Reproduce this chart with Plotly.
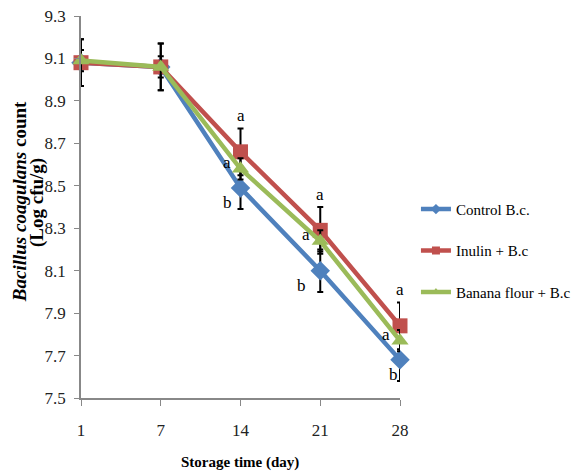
import plotly.graph_objects as go

days = ["1", "7", "14", "21", "28"]
control = [9.08, 9.06, 8.49, 8.10, 7.68]
inulin = [9.08, 9.06, 8.66, 8.29, 7.84]
banana = [9.09, 9.06, 8.58, 8.24, 7.77]
control_err = [0.11, 0.11, 0.10, 0.10, 0.10]
inulin_err = [0.11, 0.11, 0.11, 0.11, 0.11]
banana_err = [0.05, 0.05, 0.05, 0.05, 0.05]
names = ["Control B.c.", "Inulin + B.c", "Banana flour + B.c"]
letters_top = ["", "", "a", "a", "a"]
letters_mid = ["", "", "a", "a", "a"]
letters_low = ["", "", "b", "b", "b"]
yticks = [7.5, 7.7, 7.9, 8.1, 8.3, 8.5, 8.7, 8.9, 9.1, 9.3]

BLUE = "#4F81BD"
RED = "#C0504D"
GREEN = "#9BBB59"
FONT = "Liberation Serif, Times New Roman, serif"

xs = list(range(len(days)))
fig = go.Figure()

series = [
    (control, control_err, BLUE, "diamond", 15, names[0]),
    (inulin, inulin_err, RED, "square", 15, names[1]),
    (banana, banana_err, GREEN, "triangle-up", 15, names[2]),
]
for vals, err, col, sym, sz, nm in series:
    fig.add_trace(go.Scatter(
        x=xs, y=vals, mode="lines+markers", showlegend=False,
        line=dict(color=col, width=4.5),
        marker=dict(color=col, symbol=sym, size=sz),
        error_y=dict(type="data", array=err, color="black", thickness=2, width=3),
        cliponaxis=False,
    ))

for i, (vals, err, col, sym, sz, nm) in enumerate(series):
    fig.add_trace(go.Scatter(
        x=[None], y=[None], mode="lines+markers", name=nm,
        line=dict(color=col, width=4.5),
        marker=dict(color=col, symbol=sym, size=8),
        legendgroup=str(i),
    ))

ann_font = dict(family=FONT, size=17, color="black")
for i in xs:
    if letters_top[i]:
        fig.add_annotation(x=i, y=inulin[i] + inulin_err[i], text=letters_top[i],
                           showarrow=False, yshift=13, xshift=0, font=ann_font)
    if letters_mid[i]:
        fig.add_annotation(x=i, y=banana[i], text=letters_mid[i],
                           showarrow=False, xshift=-14, yshift=6, font=ann_font)
low_xshift = [0, 0, -13, -19, -7]
for i in xs:
    if letters_low[i]:
        fig.add_annotation(x=i, y=control[i], text=letters_low[i],
                           showarrow=False, xshift=low_xshift[i], yshift=-15, font=ann_font)

# y-axis title as two rotated lines
fig.add_annotation(xref="paper", yref="paper", x=-0.194, y=0.513,
                   xanchor="center", yanchor="middle",
                   text="<b><i>Bacillus coagulans</i> count</b>", textangle=-90,
                   showarrow=False, font=dict(family=FONT, size=19, color="black"))
fig.add_annotation(xref="paper", yref="paper", x=-0.138, y=0.513,
                   xanchor="center", yanchor="middle",
                   text="<b>(Log cfu/g)</b>", textangle=-90,
                   showarrow=False, font=dict(family=FONT, size=19, color="black"))
# x-axis title
fig.add_annotation(xref="paper", yref="paper", x=0.498, y=-0.17,
                   xanchor="center", yanchor="middle",
                   text="<b>Storage time (day)</b>", showarrow=False,
                   font=dict(family=FONT, size=15, color="black"))

fig.update_layout(
    width=579, height=476,
    margin=dict(l=73, r=187, t=8, b=86, autoexpand=False),
    paper_bgcolor="white", plot_bgcolor="white",
    font=dict(family=FONT, size=16, color="#222"),
    legend=dict(x=1.05, y=0.537, xanchor="left", yanchor="top",
                font=dict(family=FONT, size=15, color="black"),
                traceorder="grouped", tracegroupgap=19,
                bgcolor="rgba(0,0,0,0)"),
    xaxis=dict(range=[0, 4], tickmode="array", tickvals=xs, ticktext=days,
               showgrid=False, zeroline=False, showline=True, linecolor="#888",
               linewidth=1.5, ticks="outside", tickcolor="#888", ticklen=6,
               ticklabelstandoff=10, ticklabeloverflow="allow",
               tickfont=dict(family=FONT, size=17, color="#222")),
    yaxis=dict(range=[7.5, 9.3], tickmode="array", tickvals=yticks,
               ticktext=[f"{v:.1f}" for v in yticks],
               showgrid=False, zeroline=False, showline=True, linecolor="#888",
               linewidth=1.5, ticks="outside", tickcolor="#888", ticklen=5,
               ticklabelstandoff=5, ticklabeloverflow="allow",
               tickfont=dict(family=FONT, size=17, color="#222")),
)

fig.write_html("out.html")
